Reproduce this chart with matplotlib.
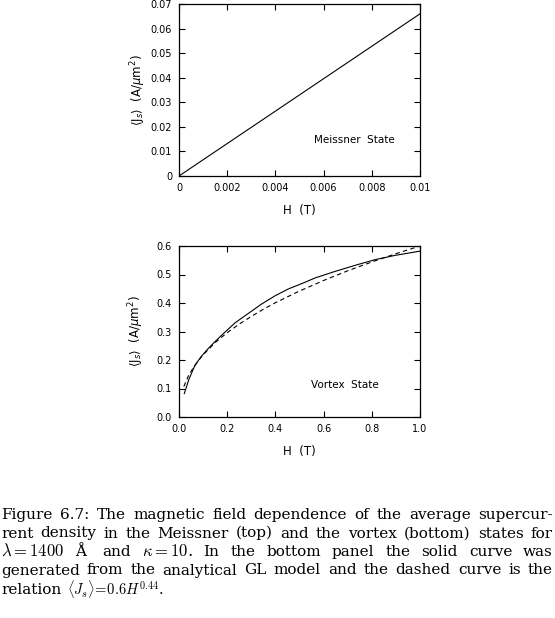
import matplotlib
matplotlib.use("Agg")
import matplotlib.pyplot as plt

# top panel: Meissner state
h_meissner = [0.0, 0.01]
j_meissner = [0.0, 0.066]

# bottom panel: vortex state, solid curve (GL model)
h_gl = [0.022, 0.04, 0.066, 0.09, 0.121, 0.15, 0.177, 0.232, 0.287, 0.342, 0.398,
        0.453, 0.515, 0.565, 0.648, 0.73, 0.813, 0.896, 1.0]
j_gl = [0.082, 0.13, 0.181, 0.21, 0.24, 0.265, 0.287, 0.33, 0.363, 0.396, 0.425,
        0.449, 0.47, 0.488, 0.511, 0.532, 0.552, 0.567, 0.582]
# dashed curve (power law fit)
h_fit = [0.02, 0.04, 0.06, 0.08, 0.1, 0.15, 0.2, 0.25, 0.3, 0.35, 0.4, 0.5, 0.6, 0.7, 0.8, 0.9, 1.0]
j_fit = [0.107, 0.146, 0.174, 0.197, 0.218, 0.261, 0.296, 0.326, 0.353, 0.378, 0.401,
         0.442, 0.479, 0.513, 0.544, 0.573, 0.600]

ylabel = r"$\langle$J$_s\rangle$  (A/$\mu$m$^2$)"

caption = [
    ["Figure", "6.7:", "The", "magnetic", "field", "dependence", "of", "the", "average", "supercur-"],
    ["rent", "density", "in", "the", "Meissner", "(top)", "and", "the", "vortex", "(bottom)", "states", "for"],
    [r"$\lambda=1400$", "Å ", "and", r"$\kappa=10$.", "In", "the", "bottom", "panel", "the", "solid", "curve", "was"],
    ["generated", "from", "the", "analytical", "GL", "model", "and", "the", "dashed", "curve", "is", "the"],
    ["relation", r"$\langle J_s\rangle\!=\!0.6H^{0.44}$."],
]

fig = plt.figure(figsize=(5.55, 6.18), dpi=100)


def style(ax):
    ax.tick_params(direction='in', top=True, right=True, labelsize=7, length=4, width=0.8, pad=5)
    for s in ax.spines.values():
        s.set_linewidth(0.9)


ax1 = fig.add_axes([179 / 555, 1 - 176 / 618, 241 / 555, 172 / 618])
ax1.plot(h_meissner, j_meissner, color='black', lw=0.8)
ax1.set_xlim(0, 0.01)
ax1.set_ylim(0, 0.07)
ax1.set_xticks([0, 0.002, 0.004, 0.006, 0.008, 0.01])
ax1.set_xticklabels(['0', '0.002', '0.004', '0.006', '0.008', '0.01'])
ax1.set_yticks([0, 0.01, 0.02, 0.03, 0.04, 0.05, 0.06, 0.07])
ax1.set_yticklabels(['0', '0.01', '0.02', '0.03', '0.04', '0.05', '0.06', '0.07'])
style(ax1)
ax1.set_xlabel("H  (T)", fontsize=8.5, labelpad=8)
ax1.set_ylabel(ylabel, fontsize=8.5, labelpad=2)
ax1.text(0.0056, 0.0147, "Meissner  State", fontsize=7.5, va='center')

ax2 = fig.add_axes([179 / 555, 1 - 417 / 618, 241 / 555, 171 / 618])
ax2.plot(h_gl, j_gl, color='black', lw=0.8)
ax2.plot(h_fit, j_fit, color='black', lw=0.8, dashes=(4, 3))
ax2.set_xlim(0, 1.0)
ax2.set_ylim(0, 0.6)
ax2.set_xticks([0, 0.2, 0.4, 0.6, 0.8, 1.0])
ax2.set_xticklabels(['0.0', '0.2', '0.4', '0.6', '0.8', '1.0'])
ax2.set_yticks([0, 0.1, 0.2, 0.3, 0.4, 0.5, 0.6])
ax2.set_yticklabels(['0.0', '0.1', '0.2', '0.3', '0.4', '0.5', '0.6'])
style(ax2)
ax2.set_xlabel("H  (T)", fontsize=8.5, labelpad=8)
ax2.set_ylabel(ylabel, fontsize=8.5, labelpad=8)
ax2.text(0.546, 0.112, "Vortex  State", fontsize=7.5, va='center')

# justified caption, one word at a time, on common baselines
renderer = fig.canvas.get_renderer()
left, right = 1, 553
baselines = [519, 537.5, 556, 574.5, 594.5]
for i, words in enumerate(caption):
    texts = []
    for w in words:
        if '$' in w:
            size = 12 if i < len(caption) - 1 else 10.5
        else:
            size = 11
        texts.append(fig.text(0, 0, w, fontsize=size, family='DejaVu Serif',
                              math_fontfamily='cm', va='baseline', ha='left'))
    widths = [t.get_window_extent(renderer).width for t in texts]
    if i < len(caption) - 1:
        gap = (right - left - sum(widths)) / (len(words) - 1)
    else:
        gap = 6
    x = left
    for t, w in zip(texts, widths):
        t.set_position((x / 555, 1 - baselines[i] / 618))
        x += w + gap

fig.savefig("out.png", dpi=100)
